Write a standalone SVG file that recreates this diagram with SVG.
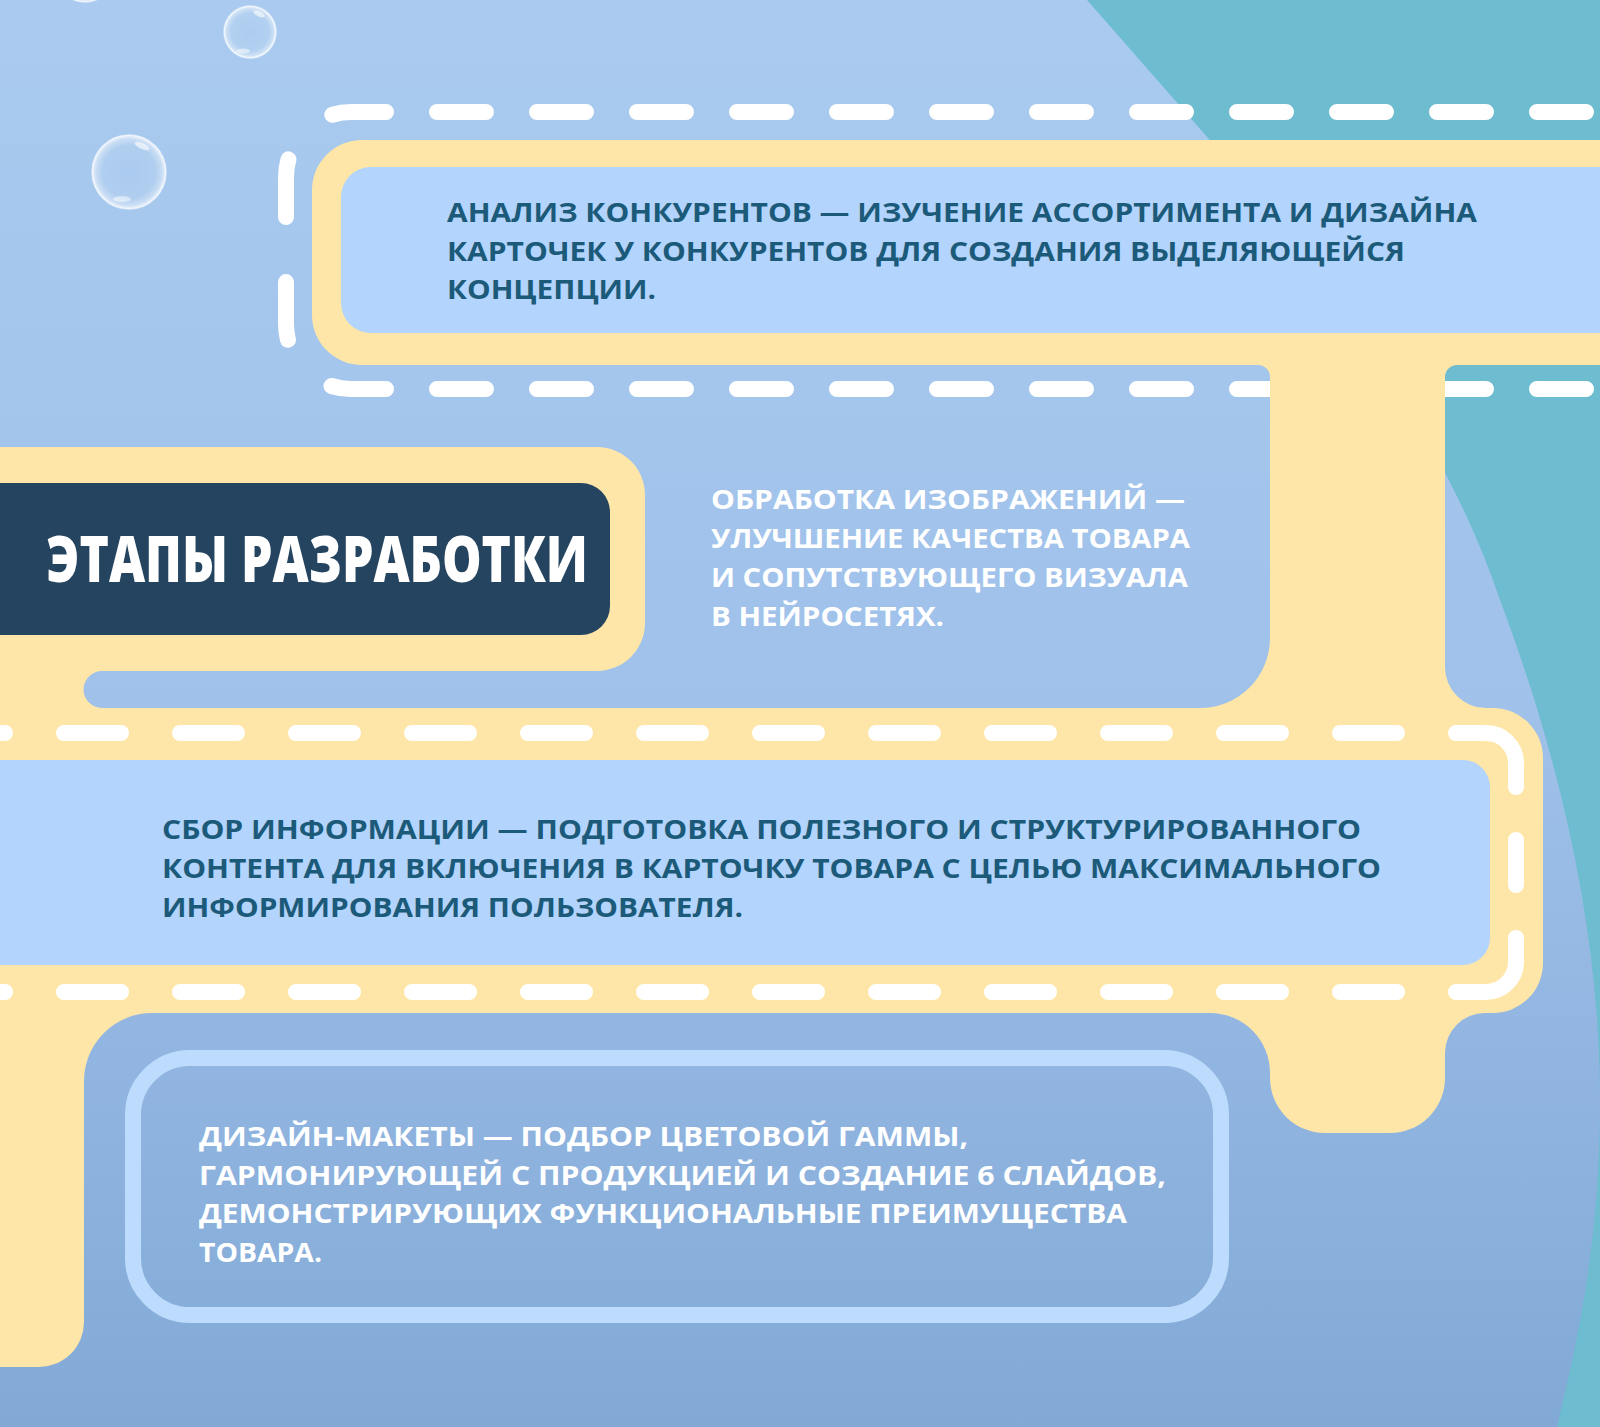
<svg xmlns="http://www.w3.org/2000/svg" width="1600" height="1427" viewBox="0 0 1600 1427">
<defs>
  <linearGradient id="bg" gradientUnits="userSpaceOnUse" x1="0" y1="0" x2="0" y2="1427">
    <stop offset="0" stop-color="#aacbef"/>
    <stop offset="0.5" stop-color="#9fc1ea"/>
    <stop offset="1" stop-color="#82a9d6"/>
  </linearGradient>
  <radialGradient id="bubble" cx="0.5" cy="0.5" r="0.5">
    <stop offset="0" stop-color="#ffffff" stop-opacity="0.03"/>
    <stop offset="0.72" stop-color="#ffffff" stop-opacity="0.1"/>
    <stop offset="0.9" stop-color="#ffffff" stop-opacity="0.4"/>
    <stop offset="1" stop-color="#ffffff" stop-opacity="0.85"/>
  </radialGradient>
</defs>
<style>
  .dash{fill:none;stroke:#ffffff;stroke-width:16;stroke-linecap:round}
  .yellow{fill:#fee6a8}
  .inner{fill:#b3d4fc}
  .txt{font-family:"Open Sans","Noto Sans","DejaVu Sans",sans-serif;font-weight:700;font-size:27.5px}
  .dark{fill:#1c5a7a}
  .light{fill:#ffffff}
  .title{font-family:"Open Sans","Noto Sans","DejaVu Sans",sans-serif;font-weight:800;font-size:64px;fill:#ffffff}
  .bub{fill:url(#bubble);stroke:#ffffff;stroke-opacity:0.55;stroke-width:1.5}
</style>

<g id="background">
  <rect x="0" y="0" width="1600" height="1427" fill="#6dbccf"/>
  <path d="M0,0 L1087,0 L1208,138 C1340,290 1450,450 1500,600 C1560,760 1600,930 1600,1100 C1600,1250 1575,1350 1557,1427 L0,1427 Z" fill="url(#bg)"/>
  <g id="bubbles">
    <circle class="bub" cx="85" cy="-28" r="30"/>
    <circle class="bub" cx="250" cy="32" r="26"/>
    <ellipse cx="259" cy="14" rx="6" ry="2.5" fill="#ffffff" opacity="0.6" transform="rotate(25 259 14)"/>
    <ellipse cx="243" cy="51" rx="7" ry="2.5" fill="#ffffff" opacity="0.5"/>
    <circle class="bub" cx="129" cy="172" r="37"/>
    <ellipse cx="142" cy="146" rx="8" ry="3" fill="#ffffff" opacity="0.6" transform="rotate(25 142 146)"/>
    <ellipse cx="122" cy="199" rx="9" ry="3" fill="#ffffff" opacity="0.5"/>
  </g>
</g>

<g id="connectors">
  <path class="dash" d="M437,112 H1690" stroke-dasharray="49 51"/>
  <path class="dash" d="M437,389 H1690" stroke-dasharray="49 51"/>
  <path class="dash" d="M386,112 H351 A65,65 0 0 0 286,177 V324 A65,65 0 0 0 351,389 H386" stroke-dasharray="54 65 58 65 58 66 55"/>
</g>

<g id="frame">
  <path class="yellow" d="M312,190 A50,50 0 0 1 362,140 L1600,140 L1600,365 L1457,365 A12,12 0 0 0 1445,377 L1445,667 A41,41 0 0 0 1486,708 L1493,708 A50,50 0 0 1 1543,758 L1543,963 A50,50 0 0 1 1493,1013 L1485,1013 A40,40 0 0 0 1445,1053 L1445,1078 A55,55 0 0 1 1390,1133 L1325,1133 A55,55 0 0 1 1270,1078 L1270,1073 A60,60 0 0 0 1210,1013 L152,1013 A68,68 0 0 0 84,1081 L84,1322 A45,45 0 0 1 39,1367 L0,1367 L0,447 L597,447 A48,48 0 0 1 645,495 L645,623 A48,48 0 0 1 597,671 L102,671 A18.5,18.5 0 0 0 102,708 L1200,708 A70,70 0 0 0 1270,638 L1270,377 A12,12 0 0 0 1258,365 L362,365 A50,50 0 0 1 312,315 Z"/>
  <path class="dash" d="M-52,733 H1456" stroke-dasharray="57 59"/>
  <path class="dash" d="M-52,992 H1456" stroke-dasharray="57 59"/>
  <path class="dash" d="M1456,733 H1486 A30,30 0 0 1 1516,763 V787"/>
  <path class="dash" d="M1516,840 V885"/>
  <path class="dash" d="M1516,938 V962 A30,30 0 0 1 1486,992 H1456"/>
</g>

<g id="node-title">
  <rect x="-40" y="483" width="650" height="152" rx="29" fill="#24445f"/>
  <text class="title" x="46" y="582" textLength="542" lengthAdjust="spacingAndGlyphs">ЭТАПЫ РАЗРАБОТКИ</text>
</g>

<g id="node-analysis">
  <rect class="inner" x="341" y="167" width="1300" height="166" rx="30"/>
  <text class="txt dark" x="447" y="222" textLength="1030" lengthAdjust="spacingAndGlyphs">АНАЛИЗ КОНКУРЕНТОВ — ИЗУЧЕНИЕ АССОРТИМЕНТА И ДИЗАЙНА</text>
  <text class="txt dark" x="447" y="261" textLength="958" lengthAdjust="spacingAndGlyphs">КАРТОЧЕК У КОНКУРЕНТОВ ДЛЯ СОЗДАНИЯ ВЫДЕЛЯЮЩЕЙСЯ</text>
  <text class="txt dark" x="447" y="299" textLength="209" lengthAdjust="spacingAndGlyphs">КОНЦЕПЦИИ.</text>
</g>

<g id="node-images">
  <text class="txt light" x="711" y="509" textLength="474" lengthAdjust="spacingAndGlyphs">ОБРАБОТКА ИЗОБРАЖЕНИЙ —</text>
  <text class="txt light" x="711" y="548" textLength="479" lengthAdjust="spacingAndGlyphs">УЛУЧШЕНИЕ КАЧЕСТВА ТОВАРА</text>
  <text class="txt light" x="711" y="587" textLength="477" lengthAdjust="spacingAndGlyphs">И СОПУТСТВУЮЩЕГО ВИЗУАЛА</text>
  <text class="txt light" x="711" y="626" textLength="233" lengthAdjust="spacingAndGlyphs">В НЕЙРОСЕТЯХ.</text>
</g>

<g id="node-info">
  <rect class="inner" x="-40" y="760" width="1530" height="205" rx="27"/>
  <text class="txt dark" x="162" y="839" textLength="1199" lengthAdjust="spacingAndGlyphs">СБОР ИНФОРМАЦИИ — ПОДГОТОВКА ПОЛЕЗНОГО И СТРУКТУРИРОВАННОГО</text>
  <text class="txt dark" x="162" y="878" textLength="1219" lengthAdjust="spacingAndGlyphs">КОНТЕНТА ДЛЯ ВКЛЮЧЕНИЯ В КАРТОЧКУ ТОВАРА С ЦЕЛЬЮ МАКСИМАЛЬНОГО</text>
  <text class="txt dark" x="162" y="917" textLength="581" lengthAdjust="spacingAndGlyphs">ИНФОРМИРОВАНИЯ ПОЛЬЗОВАТЕЛЯ.</text>
</g>

<g id="node-design">
  <rect x="133" y="1058" width="1088" height="257" rx="57" fill="none" stroke="#bddcfd" stroke-width="16"/>
  <text class="txt light" x="199" y="1146" textLength="769" lengthAdjust="spacingAndGlyphs">ДИЗАЙН-МАКЕТЫ — ПОДБОР ЦВЕТОВОЙ ГАММЫ,</text>
  <text class="txt light" x="199" y="1185" textLength="967" lengthAdjust="spacingAndGlyphs">ГАРМОНИРУЮЩЕЙ С ПРОДУКЦИЕЙ И СОЗДАНИЕ 6 СЛАЙДОВ,</text>
  <text class="txt light" x="199" y="1223" textLength="928" lengthAdjust="spacingAndGlyphs">ДЕМОНСТРИРУЮЩИХ ФУНКЦИОНАЛЬНЫЕ ПРЕИМУЩЕСТВА</text>
  <text class="txt light" x="199" y="1262" textLength="123" lengthAdjust="spacingAndGlyphs">ТОВАРА.</text>
</g>
</svg>
